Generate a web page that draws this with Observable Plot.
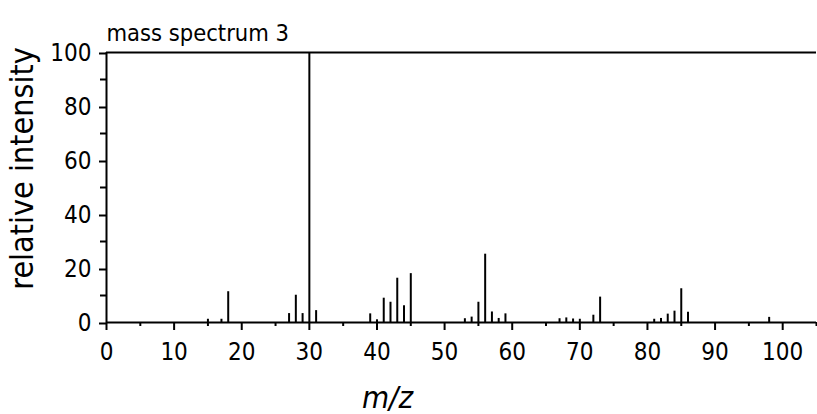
<!DOCTYPE html>
<html>
<head>
<meta charset="utf-8">
<script src="https://cdn.jsdelivr.net/npm/d3@7"></script>
<script src="https://cdn.jsdelivr.net/npm/@observablehq/plot@0.6"></script>
<style>
  html, body { margin: 0; padding: 0; background: #fff; }
  #chart svg { display: block; }
</style>
</head>
<body>
<div id="chart"></div>
<script>
// m/z values and relative intensities
const mz = [15, 17, 18, 27, 28, 29, 30, 31, 39, 40, 41, 42, 43, 44, 45,
            53, 54, 55, 56, 57, 58, 59, 67, 68, 69, 70, 72, 73,
            81, 82, 83, 84, 85, 86, 98];
const intensity = [1.2, 1.2, 11.4, 3.3, 10.1, 3.3, 100, 4.4, 3.2, 1.0, 9.0, 7.5, 16.4, 6.2, 18.1,
                   1.4, 2.0, 7.5, 25.3, 3.9, 1.5, 3.2, 1.4, 1.7, 1.3, 1.2, 2.7, 9.4,
                   1.2, 1.5, 3.1, 4.2, 12.5, 3.8, 1.9];
const xMajorTicks = [0, 10, 20, 30, 40, 50, 60, 70, 80, 90, 100];
const xMinorTicks = [5, 15, 25, 35, 45, 55, 65, 75, 85, 95, 105];
const yMajorTicks = [0, 20, 40, 60, 80, 100];
const yMinorTicks = [10, 30, 50, 70, 90];
const titleText = "mass spectrum 3";
const xLabel = "m/z";
const yLabel = "relative intensity";

const peaks = mz.map((m, i) => ({mz: m, intensity: intensity[i]}));

const chart = Plot.plot({
  width: 817,
  height: 414,
  marginLeft: 106,
  marginRight: 1,
  marginTop: 52,
  marginBottom: 92,
  style: {fontFamily: "'DejaVu Sans Condensed', 'DejaVu Sans', sans-serif", fontSize: "24px", color: "#000", background: "#fff"},
  x: {domain: [0, 105]},
  y: {domain: [0, 100]},
  marks: [
    Plot.ruleX(peaks, {x: "mz", y1: 0, y2: "intensity", stroke: "#000", strokeWidth: 2}),
    Plot.ruleY([0], {stroke: "#000", strokeWidth: 2}),
    Plot.ruleY([100], {stroke: "#000", strokeWidth: 2}),
    Plot.ruleX([0], {stroke: "#000", strokeWidth: 2}),
    Plot.axisX(xMajorTicks, {tickSize: 8, tickPadding: 12, strokeWidth: 2, fontSize: 24, label: null}),
    Plot.axisX(xMinorTicks, {tickSize: 4, strokeWidth: 2, fill: "none", label: null}),
    Plot.axisY(yMajorTicks, {tickSize: 7, tickPadding: 8, strokeWidth: 2, fontSize: 24, dy: 1, label: null}),
    Plot.axisY(yMinorTicks, {tickSize: 6, strokeWidth: 2, fill: "none", label: null}),
    Plot.text([titleText], {text: d => d, frameAnchor: "top-left", textAnchor: "start", lineAnchor: "middle", dy: -19.4, fontSize: 23.5, fill: "#000"}),
    Plot.text([xLabel], {text: d => d, frameAnchor: "bottom-left", textAnchor: "middle", lineAnchor: "middle", dx: 281, dy: 76, fontSize: 31, fontStyle: "italic", fill: "#000"}),
    Plot.text([yLabel], {text: d => d, frameAnchor: "left", textAnchor: "middle", lineAnchor: "middle", rotate: -90, dx: -84, dy: -19, fontSize: 32, fill: "#000"})
  ]
});
document.getElementById("chart").appendChild(chart);
</script>
</body>
</html>
